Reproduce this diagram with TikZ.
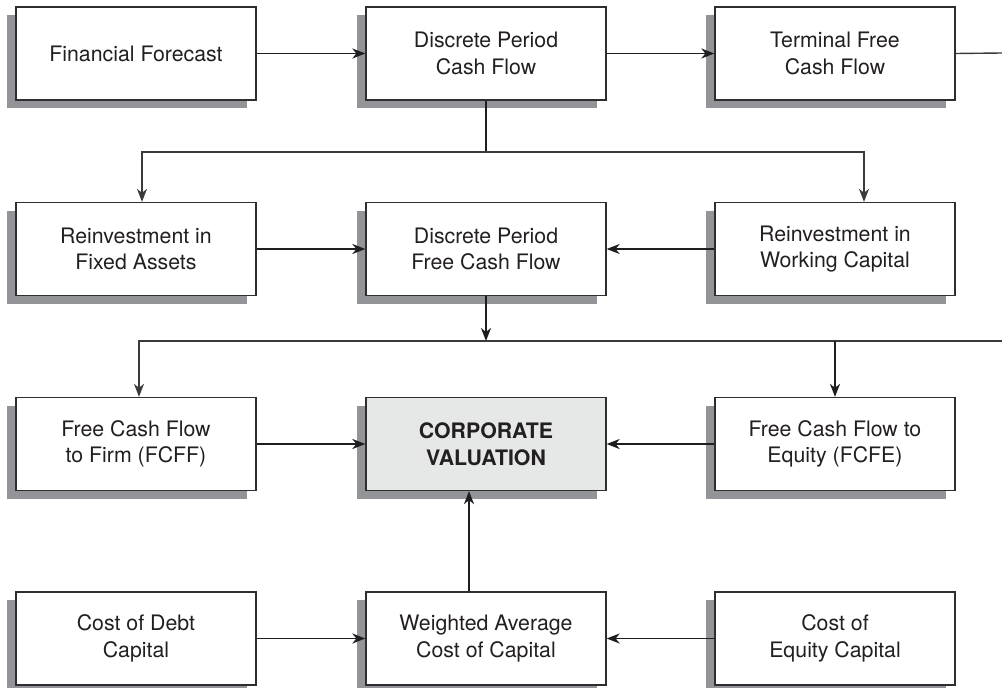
\documentclass[tikz,border=0pt]{standalone}
\usepackage{fontspec}
\setmainfont{TeX Gyre Heros}
\usetikzlibrary{arrows.meta,shadows}
\definecolor{boxline}{HTML}{2E2E30}
\definecolor{inkline}{HTML}{1E1E20}
\definecolor{thinline}{HTML}{3A3A3C}
\definecolor{shade}{HTML}{939498}
\definecolor{cvfill}{HTML}{E6E7E7}
\definecolor{txt}{HTML}{231F20}
\tikzset{
  stepbox/.style={draw=boxline, line width=1.3pt, fill=white,
    minimum width=240pt, minimum height=93pt, inner sep=0pt,
    align=center, text=txt,
    font=\fontsize{21.3}{26.5}\selectfont,
    drop shadow={shadow xshift=-9pt, shadow yshift=-8pt, fill=shade, opacity=1}},
  keybox/.style={stepbox, fill=cvfill, font=\fontsize{21.3}{26.5}\selectfont\bfseries},
  arr/.style={draw=inkline, line width=1.9pt,
    -{Stealth[length=13pt,width=10pt,inset=4pt]}},
  plain/.style={draw=thinline, line width=1.4pt}
}
\begin{document}
\begin{tikzpicture}[x=1pt,y=-1pt]
\useasboundingbox (0,0) rectangle (1002,688);

% row 1
\node[stepbox] (ff)   at (136,53.5) {Financial Forecast};
\node[stepbox] (dpcf) at (486,53.5) {Discrete Period\\Cash Flow};
\node[stepbox] (tfcf) at (835,53.5) {Terminal Free\\Cash Flow};
% row 2
\node[stepbox] (rfa)   at (136,249) {Reinvestment in\\Fixed Assets};
\node[stepbox] (dpfcf) at (486,249) {Discrete Period\\Free Cash Flow};
\node[stepbox] (rwc)   at (835,249) {Reinvestment in\\Working Capital};
% row 3
\node[stepbox] (fcff) at (136,444) {Free Cash Flow\\to Firm (FCFF)};
\node[keybox]  (cv)   at (486,444) {CORPORATE\\VALUATION};
\node[stepbox] (fcfe) at (835,444) {Free Cash Flow to\\Equity (FCFE)};
% row 4
\node[stepbox] (cod)  at (136,638.5) {Cost of Debt\\Capital};
\node[stepbox] (wacc) at (486,638.5) {Weighted Average\\Cost of Capital};
\node[stepbox] (coe)  at (835,638.5) {Cost of\\Equity Capital};

% junction points and free ends
\coordinate (b1) at (486,152);
\coordinate (b2) at (486,341);
\coordinate (out1) at (1002,53);
\coordinate (out2) at (1002,341);

% row 1 flow
\draw[arr] (ff) -- (dpcf);
\draw[arr] (dpcf) -- (tfcf);
\draw[plain] (tfcf.east) -- (out1);

% split of discrete period cash flow into reinvestment
\draw[arr, -] (dpcf.south) -- (b1);
\draw[plain, -{Stealth[length=13pt,width=10pt,inset=4pt]}] (b1) -| ([xshift=6pt]rfa.north);
\draw[plain, -{Stealth[length=13pt,width=10pt,inset=4pt]}] (b1) -| ([xshift=29pt]rwc.north);

% row 2 flow
\draw[arr] (rfa) -- (dpfcf);
\draw[arr] (rwc) -- (dpfcf);

% split of free cash flow into FCFF / FCFE
\draw[arr] (dpfcf.south) -- (b2);
\draw[plain, -{Stealth[length=13pt,width=10pt,inset=4pt]}] (out2) -| ([xshift=3pt]fcff.north);
\draw[arr] (fcfe.north |- out2) -- (fcfe.north);

% row 3 flow
\draw[arr] (fcff) -- (cv);
\draw[arr] (fcfe) -- (cv);
\draw[arr] ([xshift=-17pt]wacc.north) -- ([xshift=-17pt]cv.south);

% row 4 flow
\draw[arr] (cod) -- (wacc);
\draw[arr] (coe) -- (wacc);
\end{tikzpicture}
\end{document}
